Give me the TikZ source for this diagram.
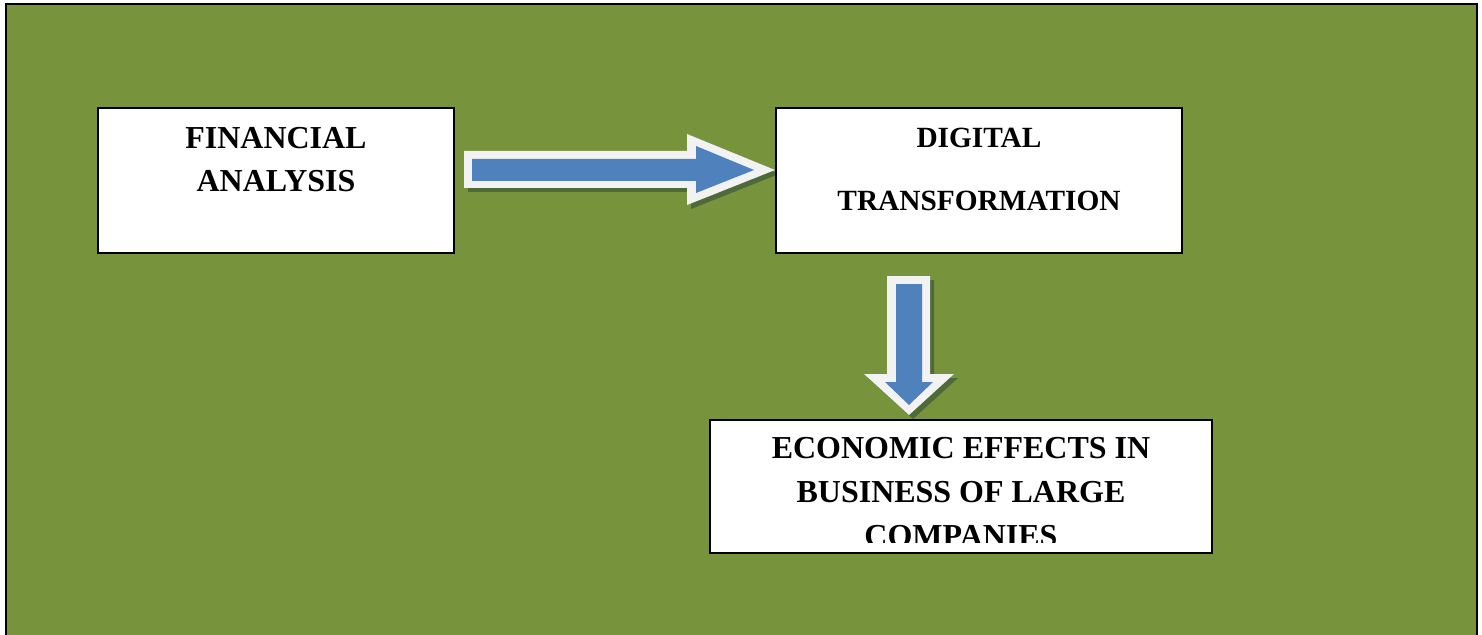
\documentclass[tikz,border=0pt]{standalone}
\usepackage{fontspec}
\setmainfont{Liberation Serif}
\usetikzlibrary{positioning}
\definecolor{olive}{HTML}{77933C}
\definecolor{arrowblue}{HTML}{4F81BD}
\definecolor{rim}{HTML}{F2F2F2}
\definecolor{shade}{HTML}{4E6A38}

\begin{document}
\begin{tikzpicture}[
  x=0.02cm,
  y=-0.02cm,
  box/.style={draw=black, fill=white, line width=1.3pt, inner sep=0pt},
  boxtext/.style={font=\bfseries\fontsize{18.2}{24.8}\selectfont, align=center, inner sep=0pt},
  arrowshadow/.style={fill=shade},
  arrowrim/.style={fill=rim},
  arrowcore/.style={fill=arrowblue}
]
  \useasboundingbox (0,0) rectangle (1482,635);
  \fill[white] (0,0) rectangle (1482,635);
  \fill[olive] (6,4) rectangle (1477,635);
  \draw[black, line width=1.2pt] (6,635) -- (6,4) -- (1477,4) -- (1477,635);

  % block arrow to the right
  \fill[arrowshadow] (468,155) -- (691,155) -- (691,138) -- (779,174) -- (691,209) -- (691,192) -- (468,192) -- cycle;
  \fill[arrowrim] (464,151) -- (687,151) -- (687,134) -- (775,170) -- (687,205) -- (687,188) -- (464,188) -- cycle;
  \fill[arrowcore] (472,159) -- (696,159) -- (696,146) -- (754,170) -- (696,193) -- (696,181) -- (472,181) -- cycle;

  % block arrow downwards
  \fill[arrowshadow] (891,280) -- (934,280) -- (934,378) -- (958,378) -- (913,419) -- (868,378) -- (891,378) -- cycle;
  \fill[arrowrim] (887,276) -- (930,276) -- (930,374) -- (954,374) -- (909,415) -- (864,374) -- (887,374) -- cycle;
  \fill[arrowcore] (896,284) -- (922,284) -- (922,382) -- (933,382) -- (909,405) -- (885,382) -- (896,382) -- cycle;

  \node[box, minimum width=7.12cm, minimum height=2.9cm] (fin) at (276,180.5) {};
  \node[box, minimum width=8.12cm, minimum height=2.9cm] (dig) at (979,180.5) {};
  \node[box, minimum width=10.04cm, minimum height=2.66cm] (eco) at (961,486.5) {};

  \node[boxtext] (fintext) at (276,159.5) {FINANCIAL\\ANALYSIS};
  \node[boxtext, font=\bfseries\fontsize{16.7}{22}\selectfont] (digtext) at (979,169.5)
    {DIGITAL\\[0.5cm]TRANSFORMATION};
  \begin{scope}
    \clip (eco.north west) rectangle (1212,542);
    \node[boxtext] (ecotext) at (961,492) {ECONOMIC EFFECTS IN\\BUSINESS OF LARGE\\COMPANIES};
  \end{scope}
\end{tikzpicture}
\end{document}
